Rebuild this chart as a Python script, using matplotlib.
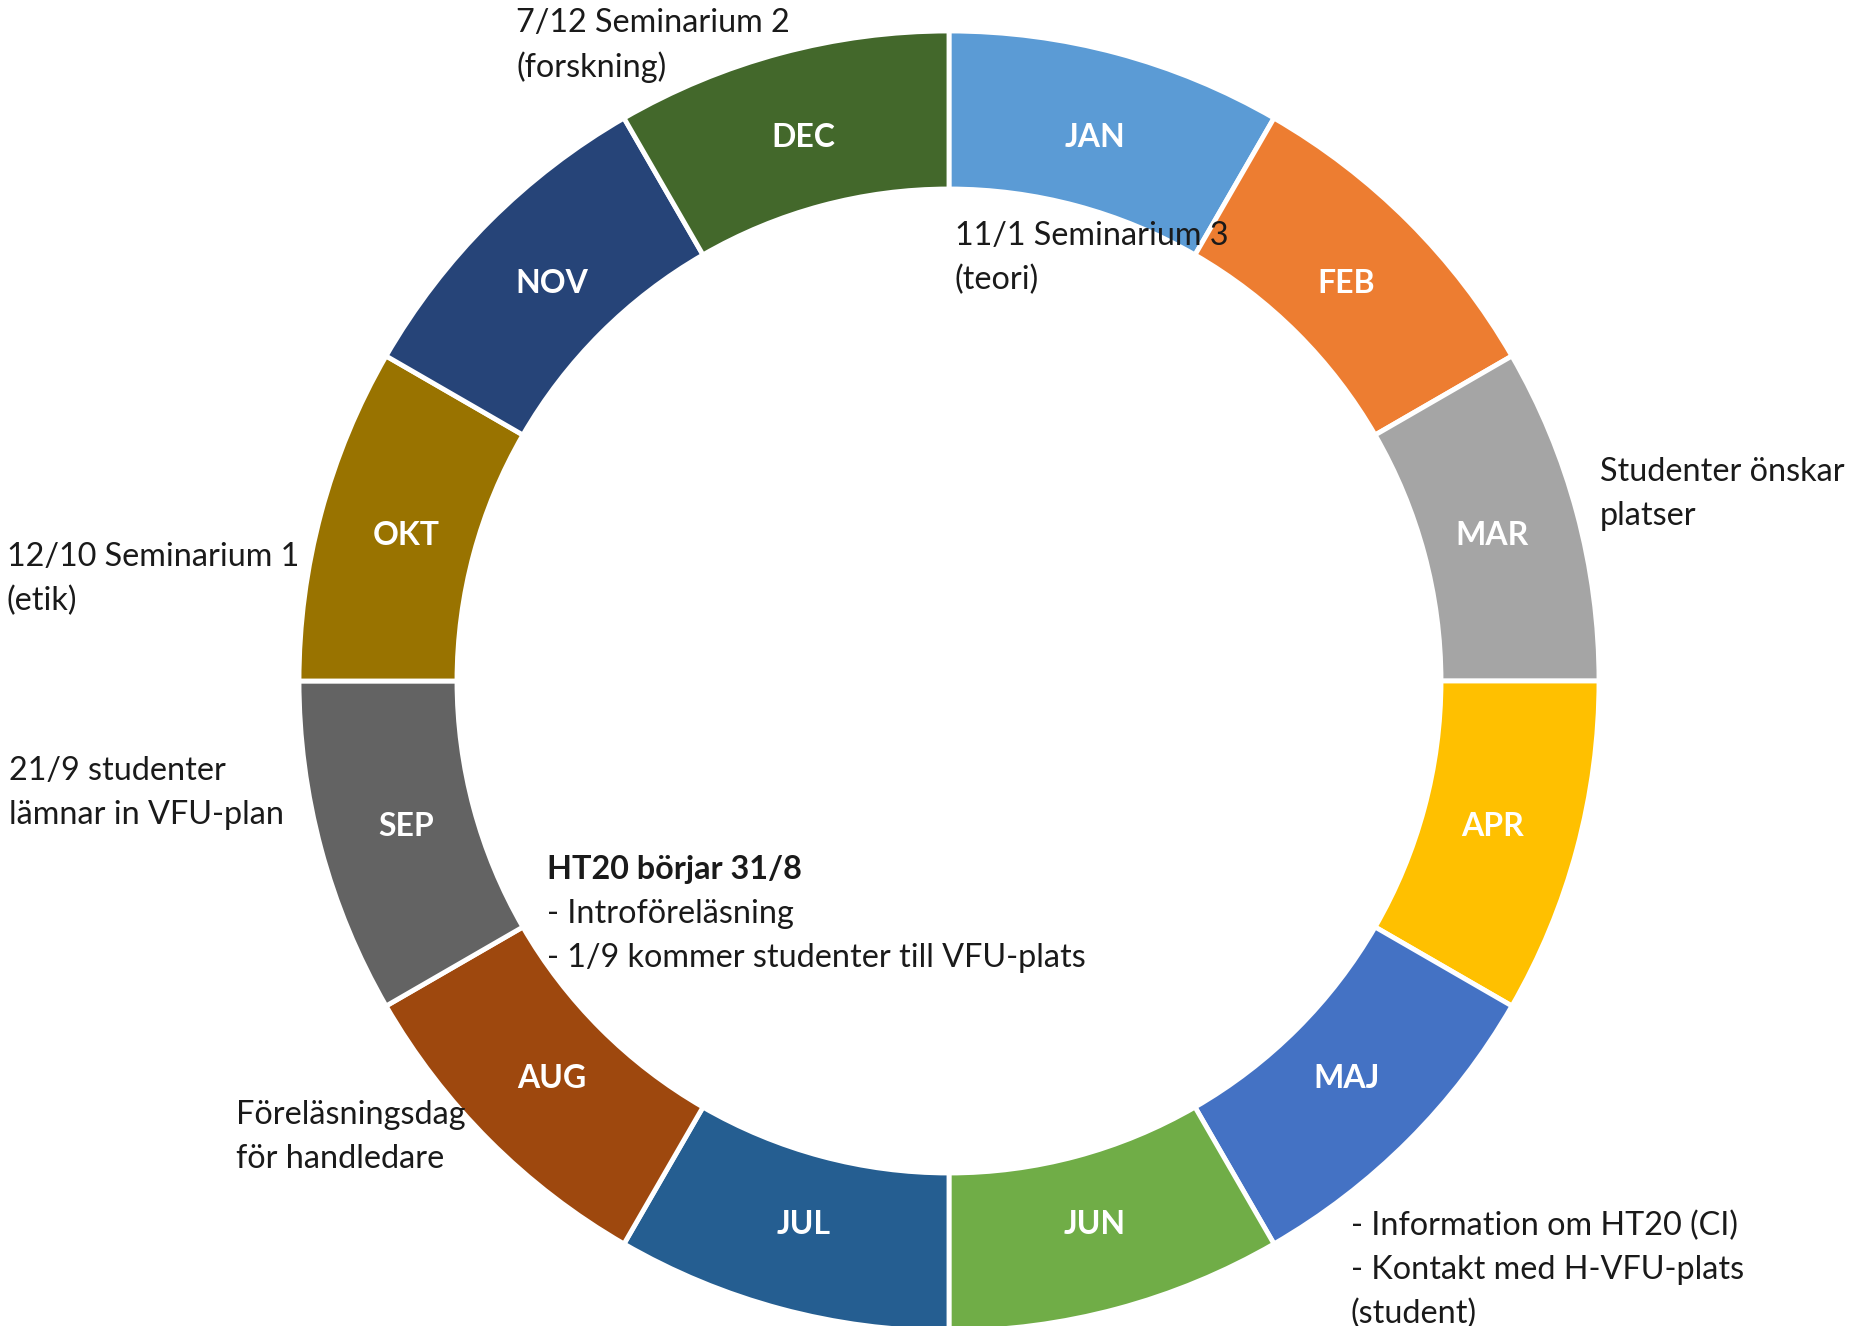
import matplotlib
matplotlib.use("Agg")
import matplotlib.pyplot as plt

# ---- data ----
months = ["JAN", "FEB", "MAR", "APR", "MAJ", "JUN",
          "JUL", "AUG", "SEP", "OKT", "NOV", "DEC"]
values = [1, 1, 1, 1, 1, 1, 1, 1, 1, 1, 1, 1]
colors = ["#5B9BD5", "#ED7D31", "#A5A5A5", "#FFC000", "#4472C4", "#70AD47",
          "#255E91", "#9E480E", "#636363", "#997300", "#264478", "#43682B"]

notes = [
    ["7/12 Seminarium 2", "(forskning)"],
    ["11/1 Seminarium 3", "(teori)"],
    ["Studenter önskar", "platser"],
    ["12/10 Seminarium 1", "(etik)"],
    ["21/9 studenter", "lämnar in VFU-plan"],
    ["HT20 börjar 31/8", "- Introföreläsning", "- 1/9 kommer studenter till VFU-plats"],
    ["Föreläsningsdag", "för handledare"],
    ["- Information om HT20 (CI)", "- Kontakt med H-VFU-plats", "(student)"],
]
note_bold_first = [False, False, False, False, False, True, False, False]

# ---- layout ----
W, H = 1868, 1326
note_pos = [(516, 23), (955, 236), (1600, 472), (7, 557), (9, 771),
            (547, 870), (236, 1115), (1351, 1226)]
line_h = 44

plt.rcParams['font.family'] = ['Lato', 'DejaVu Sans']
fig = plt.figure(figsize=(W / 100, H / 100), dpi=100)
ax = fig.add_axes([0, 0, 1, 1])

cx, cy, R = 949, H - 681, 650
ax.pie(values, colors=colors, labels=months, startangle=90, counterclock=False,
       center=(cx, cy), radius=R, labeldistance=0.865,
       wedgeprops=dict(width=158, edgecolor="white", linewidth=3.5),
       textprops=dict(color="white", fontweight="bold", fontsize=23,
                      ha="center", va="center"))

for lines, (x, y), bold in zip(notes, note_pos, note_bold_first):
    for i, line in enumerate(lines):
        ax.text(x, H - (y + i * line_h), line, fontsize=23.3, color="#1a1a1a",
                ha="left", va="center",
                fontweight="bold" if (bold and i == 0) else "normal")

ax.set_xlim(0, W)
ax.set_ylim(0, H)
ax.set_aspect("equal")
ax.axis("off")
fig.savefig("out.png", dpi=100, facecolor="white")
